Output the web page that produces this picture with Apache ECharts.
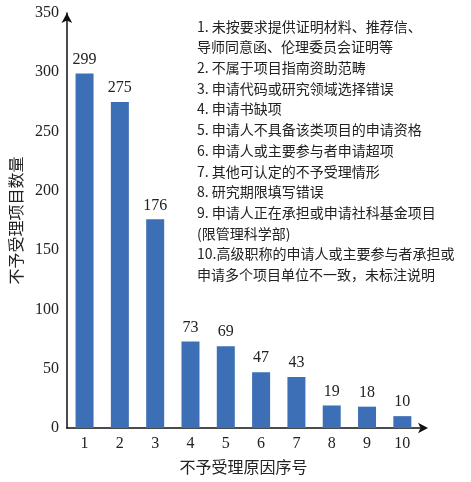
<!DOCTYPE html>
<html><head><meta charset="utf-8">
<script src="https://cdn.jsdelivr.net/npm/echarts@6/dist/echarts.min.js"></script>
<style>html,body{margin:0;padding:0;background:#fff}#c{width:471px;height:482px}</style>
</head><body><div id="c"></div>
<script>
const categories = ['1','2','3','4','5','6','7','8','9','10'];
const counts = [299, 275, 176, 73, 69, 47, 43, 19, 18, 10];
const yTicks = [0, 50, 100, 150, 200, 250, 300, 350];
const notes = [
  '1. 未按要求提供证明材料、推荐信、',
  '导师同意函、伦理委员会证明等',
  '2. 不属于项目指南资助范畴',
  '3. 申请代码或研究领域选择错误',
  '4. 申请书缺项',
  '5. 申请人不具备该类项目的申请资格',
  '6. 申请人或主要参与者申请超项',
  '7. 其他可认定的不予受理情形',
  '8. 研究期限填写错误',
  '9. 申请人正在承担或申请社科基金项目',
  '(限管理科学部)',
  '10.高级职称的申请人或主要参与者承担或',
  '申请多个项目单位不一致，未标注说明'
];
const serif = '"Liberation Serif","DejaVu Serif",serif';
const cjk = '"Noto Sans CJK SC",sans-serif';
const chart = echarts.init(document.getElementById('c'));
chart.setOption({
  animation: false,
  grid: {left: 62, right: 51, top: 13, bottom: 54},
  xAxis: {
    type: 'category', data: categories,
    name: '不予受理原因序号', nameLocation: 'middle', nameGap: 31,
    nameTextStyle: {fontFamily: cjk, fontSize: 16, color: '#222'},
    axisLine: {show: true, symbol: ['none','arrow'], symbolSize: [8, 10], symbolOffset: [0, 8], lineStyle: {color: '#111', width: 1.5}},
    axisTick: {show: false},
    axisLabel: {fontFamily: serif, fontSize: 16, color: '#222', margin: 8}
  },
  yAxis: {
    type: 'value', min: yTicks[0], max: yTicks[yTicks.length-1], interval: yTicks[1]-yTicks[0],
    name: '不予受理项目数量', nameLocation: 'middle', nameGap: 42,
    nameTextStyle: {fontFamily: cjk, fontSize: 16, color: '#222'},
    axisLine: {show: true, symbol: ['none','arrow'], symbolSize: [8, 10], lineStyle: {color: '#111', width: 1.5}},
    axisTick: {show: false},
    splitLine: {show: false},
    axisLabel: {fontFamily: serif, fontSize: 16, color: '#222', margin: 8}
  },
  series: [{
    type: 'bar', data: counts, barWidth: 18,
    itemStyle: {color: '#3d6fb7'},
    label: {show: true, position: 'top', distance: 6, fontFamily: serif, fontSize: 16, color: '#222'}
  }],
  graphic: [{
    type: 'text', left: 197, top: 16,
    style: {text: notes.join('\n'), font: '14px ' + cjk, lineHeight: 20.7, fill: '#222'}
  }]
});
</script></body></html>
